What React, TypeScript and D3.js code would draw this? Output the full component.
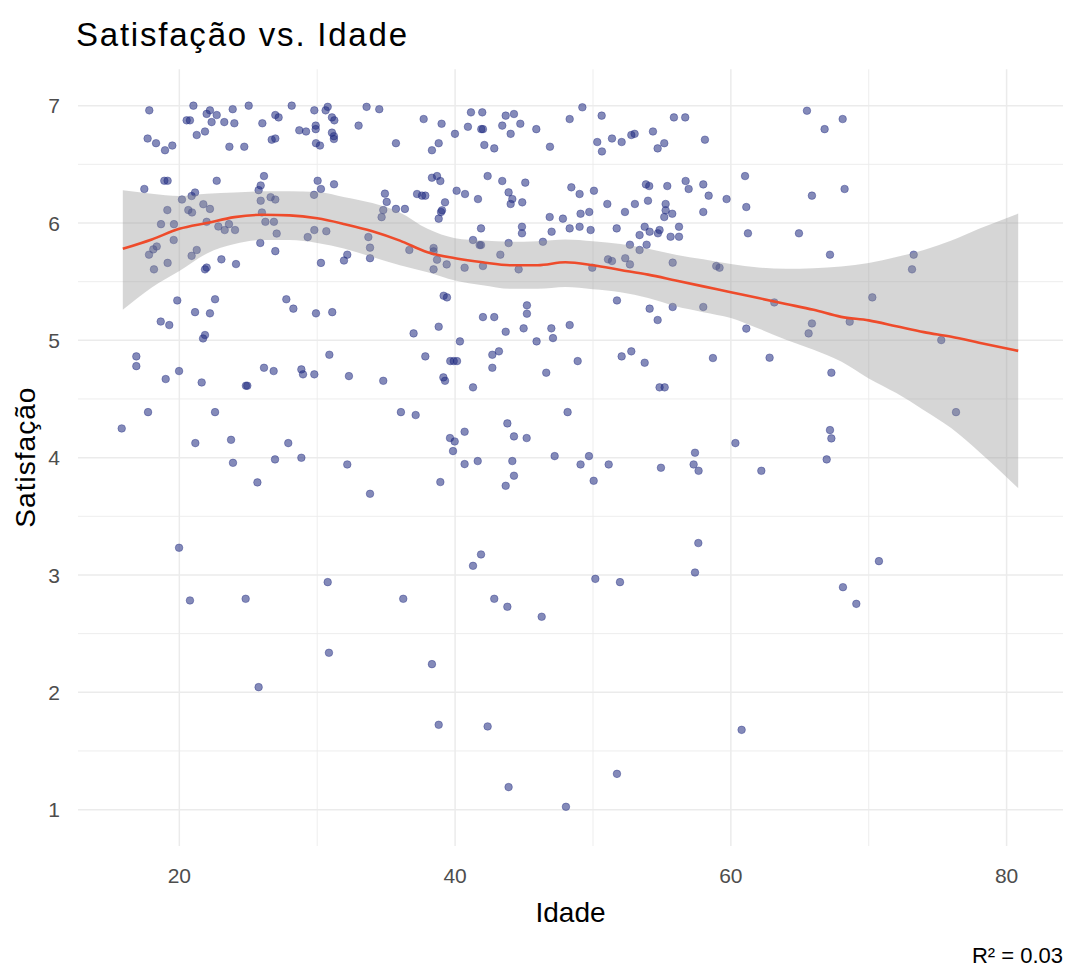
import React from "react";
import * as d3 from "d3";

// ---- data ----
const xMajorTicks = [20, 40, 60, 80];
const xMinorTicks = [30, 50, 70];
const yMajorTicks = [1, 2, 3, 4, 5, 6, 7];
const yMinorTicks = [1.5, 2.5, 3.5, 4.5, 5.5, 6.5];
const xDomain = [12.65, 84.09];
const yDomain = [0.69, 7.31];

// [idade, satisfacao]
const amostras: [number, number][] = [
  [17.82,6.96],[21.02,7.0],[22.22,6.96],[21.98,6.93],[22.71,6.92],[23.87,6.97],[25.03,7.0],[28.15,7.0],[29.79,6.96],[30.76,6.99],[30.61,6.96],[33.58,6.99],[34.5,6.97],
  [20.53,6.875],[20.77,6.875],[22.34,6.86],[23.26,6.86],[23.99,6.85],[26.02,6.85],[26.96,6.92],[27.2,6.9],[29.89,6.83],[29.89,6.8],[31.07,6.9],[31.24,6.875],[33.0,6.83],
  [21.26,6.75],[21.86,6.78],[28.7,6.79],[29.19,6.78],[31.07,6.77],[31.21,6.74],[31.21,6.716],
  [17.7,6.72],[18.31,6.68],[18.96,6.62],[19.49,6.66],[23.63,6.65],[24.71,6.65],[26.7,6.71],[26.96,6.72],[29.91,6.68],[30.2,6.66],[35.71,6.68],
  [18.91,6.36],[19.15,6.36],[22.71,6.36],[26.14,6.4],[25.9,6.32],[30.03,6.36],[30.27,6.29],[31.22,6.33],
  [17.46,6.29],[20.19,6.2],[20.89,6.23],[21.14,6.26],[21.74,6.16],[22.22,6.12],[19.13,6.11],[20.65,6.11],[20.92,6.09],[25.9,6.19],[26.62,6.22],[26.96,6.2],[29.77,6.24],[25.75,6.28],[34.91,6.25],[35.04,6.18],[35.71,6.12],[36.36,6.12],[34.79,6.11],[34.67,6.05],
  [18.67,5.99],[19.61,5.99],[21.98,6.01],[22.83,5.97],[23.29,5.94],[23.6,5.99],[24.04,5.94],[26.24,6.01],[26.86,6.01],[25.99,6.09],[27.06,5.91],[29.79,5.94],[29.31,5.88],[30.66,5.93],[33.71,5.88],
  [19.59,5.855],[18.36,5.8],[18.11,5.775],[17.8,5.73],[21.26,5.77],[20.89,5.72],[25.87,5.83],[26.96,5.76],[33.83,5.79],[33.83,5.7],[32.18,5.73],[31.94,5.68],[30.27,5.66],
  [19.15,5.66],[18.16,5.605],[21.86,5.605],[21.98,5.62],[23.05,5.69],[24.11,5.65],
  [19.85,5.34],[22.59,5.35],[27.76,5.35],[28.27,5.27],[21.14,5.24],[22.22,5.23],[29.91,5.23],[31.09,5.24],[18.65,5.16],[19.27,5.13],
  // 36-60, upper
  [37.72,6.886],[39.02,6.846],[41.15,6.943],[41.97,6.943],[43.67,6.915],[44.27,6.929],[44.73,6.846],[45.89,6.8],[40.93,6.82],[41.9,6.8],[42.02,6.8],[43.42,6.83],[44.03,6.76],[39.99,6.76],[48.31,6.886],[49.23,6.986],[50.63,6.915],[55.87,6.9],[56.69,6.9],
  [38.32,6.62],[38.81,6.68],[42.12,6.665],[42.84,6.636],[46.88,6.65],[50.31,6.69],[50.65,6.61],[51.38,6.72],[52.08,6.69],[52.78,6.75],[53.02,6.76],[54.35,6.78],[55.17,6.68],[54.69,6.636],[58.12,6.71],
  [38.32,6.386],[38.69,6.4],[38.93,6.358],[42.36,6.4],[43.42,6.358],[45.09,6.344],[40.11,6.275],[40.72,6.247],[41.66,6.204],[43.88,6.261],[44.15,6.204],[44.03,6.162],[44.87,6.176],[37.24,6.247],[37.6,6.233],[37.84,6.233],[48.43,6.304],[49.03,6.247],[50.07,6.275],[53.84,6.329],[54.08,6.315],[55.39,6.315],[56.72,6.358],[56.94,6.29],[58.0,6.329],[58.39,6.233],[59.69,6.204],
  [39.27,6.176],[39.05,6.108],[38.98,6.094],[38.81,6.037],[51.04,6.162],[52.32,6.094],[53.04,6.162],[53.99,6.19],[55.27,6.162],[55.27,6.108],[55.17,6.051],[55.75,6.079],[58.0,6.094],[49.1,6.079],[49.73,6.094],[46.86,6.051],[47.82,6.037],
  [44.85,5.968],[44.85,5.912],[41.88,5.954],[47.0,5.926],[48.31,5.954],[49.03,5.968],[49.83,5.94],[51.72,5.954],[53.75,5.968],[54.11,5.926],[54.71,5.912],[54.83,5.94],[56.24,5.968],[55.63,5.883],[56.24,5.883],[53.38,5.897],
  [41.3,5.855],[41.78,5.812],[41.88,5.812],[43.88,5.829],[46.37,5.84],[52.68,5.815],[53.89,5.815],[53.38,5.77],[36.68,5.77],[38.44,5.787],[38.44,5.758],[38.69,5.687],[43.28,5.73],[39.39,5.647],[38.44,5.605],[40.69,5.619],[42.02,5.633],[44.61,5.605],
  [51.09,5.69],[51.38,5.676],[52.34,5.7],[52.68,5.647],[49.95,5.619],[55.78,5.662],[58.94,5.633],[59.18,5.619],
  [39.17,5.38],[39.41,5.366],[45.21,5.298],[45.21,5.227],[42.02,5.198],[42.84,5.198],[51.74,5.34],[54.11,5.27],[55.78,5.284],[58.0,5.284],[54.69,5.173],
  // 60+, upper
  [65.52,6.957],[66.8,6.8],[68.11,6.886],[61.03,6.4],[65.88,6.233],[68.25,6.29],[61.12,6.136],[61.24,5.912],[64.94,5.912],[67.19,5.73],[73.26,5.73],[73.14,5.605],[63.15,5.323],[70.26,5.366],[65.88,5.144],[68.62,5.159],[61.12,5.1],
  // 15-36, middle
  [21.86,5.045],[21.72,5.016],[16.88,4.863],[16.88,4.78],[19.98,4.738],[19.01,4.67],[21.62,4.641],[24.83,4.613],[24.93,4.613],[26.14,4.766],[26.84,4.738],[28.85,4.752],[28.97,4.71],[29.79,4.71],[30.88,4.877],[32.3,4.695],[34.79,4.655],
  [17.73,4.388],[22.59,4.388],[36.07,4.388],[15.82,4.249],[21.16,4.124],[23.75,4.152],[27.9,4.124],[23.89,3.956],[26.94,3.985],[28.85,3.999],[32.18,3.942],[25.66,3.789],[33.83,3.692],[19.98,3.232],[30.76,2.939],
  // 36-60, middle
  [36.99,5.059],[38.81,5.116],[43.67,5.073],[44.97,5.102],[46.98,5.102],[48.31,5.13],[40.35,4.991],[47.1,5.019],[45.91,4.991],[37.84,4.863],[39.65,4.823],[39.9,4.823],[40.14,4.823],[42.7,4.877],[43.18,4.906],[42.7,4.766],[46.61,4.724],[48.89,4.823],[52.08,4.863],[52.78,4.906],[53.75,4.809],[58.7,4.849],
  [39.15,4.684],[39.27,4.655],[41.3,4.599],[54.83,4.599],[55.2,4.599],[37.14,4.363],[48.16,4.388],[43.79,4.292],[40.69,4.221],[44.27,4.181],[45.19,4.167],[39.63,4.167],[39.97,4.138],[39.85,4.056],[47.22,4.013],[49.71,4.013],[57.4,4.042],
  [40.69,3.945],[41.64,3.971],[44.15,3.971],[49.1,3.942],[51.14,3.942],[54.93,3.914],[57.3,3.942],[57.66,3.888],[44.27,3.846],[43.67,3.76],[38.93,3.792],[50.05,3.803],[57.64,3.272],[41.88,3.175],[41.3,3.078],[57.4,3.021],[50.17,2.967],[51.96,2.939],
  // 60+, middle
  [65.64,5.059],[62.81,4.852],[67.29,4.724],[75.26,5.002],[76.33,4.388],[67.19,4.235],[67.29,4.164],[60.33,4.124],[66.95,3.985],[62.21,3.888],[70.74,3.118],[68.13,2.896],
  // lower
  [20.77,2.783],[24.81,2.797],[30.85,2.337],[25.75,2.044],[36.24,2.797],
  [42.84,2.797],[43.79,2.729],[46.28,2.644],[38.32,2.24],[38.81,1.723],[42.36,1.709],[43.88,1.192],[48.04,1.024],[51.74,1.305],
  [69.1,2.754],[60.78,1.68],
];

// loess fit
const suaveIdade = [15.9, 18, 20, 22, 24, 26, 28, 30, 32, 34, 36, 38, 40, 42, 44, 46, 48, 50, 52, 54, 56, 58, 60, 62, 64, 66, 68, 70, 72, 74, 76, 78, 80.84];
const suaveAjuste = [5.78, 5.86, 5.95, 6.0, 6.05, 6.07, 6.065, 6.04, 5.99, 5.93, 5.85, 5.75, 5.7, 5.665, 5.64, 5.64, 5.665, 5.64, 5.6, 5.56, 5.51, 5.46, 5.41, 5.36, 5.31, 5.26, 5.2, 5.17, 5.12, 5.07, 5.03, 4.98, 4.91];
const suaveSup = [6.28, 6.25, 6.23, 6.25, 6.26, 6.27, 6.27, 6.265, 6.22, 6.17, 6.09, 5.95, 5.87, 5.85, 5.84, 5.845, 5.86, 5.845, 5.82, 5.78, 5.73, 5.69, 5.65, 5.62, 5.61, 5.615, 5.63, 5.66, 5.71, 5.77, 5.85, 5.95, 6.08];
const suaveInf = [5.26, 5.45, 5.59, 5.74, 5.82, 5.855, 5.855, 5.83, 5.78, 5.71, 5.64, 5.58, 5.51, 5.47, 5.44, 5.44, 5.455, 5.435, 5.41, 5.36, 5.29, 5.24, 5.19, 5.1, 5.005, 4.92, 4.82, 4.675, 4.55, 4.405, 4.25, 4.05, 3.74];

const titulo = "Satisfação vs. Idade";
const rotuloX = "Idade";
const rotuloY = "Satisfação";
const anotacao = "R² = 0.03";

const FONT = "'Liberation Sans', Arial, sans-serif";

export default function App() {
  const W = 1065;
  const H = 969;
  const panel = { left: 78, right: 1063, top: 69.3, bottom: 846 };
  const x = d3.scaleLinear().domain(xDomain).range([panel.left, panel.right]);
  const y = d3.scaleLinear().domain(yDomain).range([panel.bottom, panel.top]);

  const idx = suaveIdade.map((_, i) => i);
  const area = d3
    .area<number>()
    .x((i) => x(suaveIdade[i]))
    .y0((i) => y(suaveInf[i]))
    .y1((i) => y(suaveSup[i]))
    .curve(d3.curveMonotoneX);
  const line = d3
    .line<number>()
    .x((i) => x(suaveIdade[i]))
    .y((i) => y(suaveAjuste[i]))
    .curve(d3.curveMonotoneX);

  const grid = "#EBEBEB";
  return (
    <svg
      width={W}
      height={H}
      style={{ position: "absolute", left: 0, top: 0, background: "#fff" }}
      fontFamily={FONT}
    >
      <rect x={0} y={0} width={W} height={H} fill="#fff" />
      {/* grid */}
      <g>
        {yMinorTicks.map((t) => (
          <line key={"ym" + t} x1={panel.left} x2={panel.right} y1={y(t)} y2={y(t)} stroke={grid} strokeWidth={0.9} />
        ))}
        {xMinorTicks.map((t) => (
          <line key={"xm" + t} x1={x(t)} x2={x(t)} y1={panel.top} y2={panel.bottom} stroke={grid} strokeWidth={0.9} />
        ))}
        {yMajorTicks.map((t) => (
          <line key={"yM" + t} x1={panel.left} x2={panel.right} y1={y(t)} y2={y(t)} stroke={grid} strokeWidth={1.5} />
        ))}
        {xMajorTicks.map((t) => (
          <line key={"xM" + t} x1={x(t)} x2={x(t)} y1={panel.top} y2={panel.bottom} stroke={grid} strokeWidth={1.5} />
        ))}
      </g>
      {/* points */}
      <g>
        {amostras.map(([a, s], i) => (
          <circle
            key={i}
            cx={x(a)}
            cy={y(s)}
            r={3.8}
            fill="#1F2A80"
            fillOpacity={0.55}
            stroke="#1F2A80"
            strokeOpacity={0.55}
            strokeWidth={0.7}
          />
        ))}
      </g>
      {/* smooth */}
      <path d={area(idx) || ""} fill="#999999" fillOpacity={0.4} />
      <path d={line(idx) || ""} fill="none" stroke="#EE4B2B" strokeWidth={2.6} />
      {/* tick labels */}
      {xMajorTicks.map((t) => (
        <text key={"xl" + t} x={x(t)} y={883} textAnchor="middle" fontSize={21} fill="#4D4D4D">
          {t}
        </text>
      ))}
      {yMajorTicks.map((t) => (
        <text key={"yl" + t} x={60} y={y(t)} dy="0.36em" textAnchor="end" fontSize={21} fill="#4D4D4D">
          {t}
        </text>
      ))}
      {/* axis titles */}
      <text x={(panel.left + panel.right) / 2} y={922} textAnchor="middle" fontSize={28} fill="#000">
        {rotuloX}
      </text>
      <text
        transform={`translate(35, ${(panel.top + panel.bottom) / 2}) rotate(-90)`}
        textAnchor="middle"
        fontSize={28}
        fill="#000"
        textLength={140}
        lengthAdjust="spacing"
      >
        {rotuloY}
      </text>
      {/* title */}
      <text x={76} y={46} fontSize={33} fill="#000" textLength={331} lengthAdjust="spacing">
        {titulo}
      </text>
      {/* caption */}
      <text x={1063} y={963} textAnchor="end" fontSize={22} fill="#000">
        {anotacao}
      </text>
    </svg>
  );
}
